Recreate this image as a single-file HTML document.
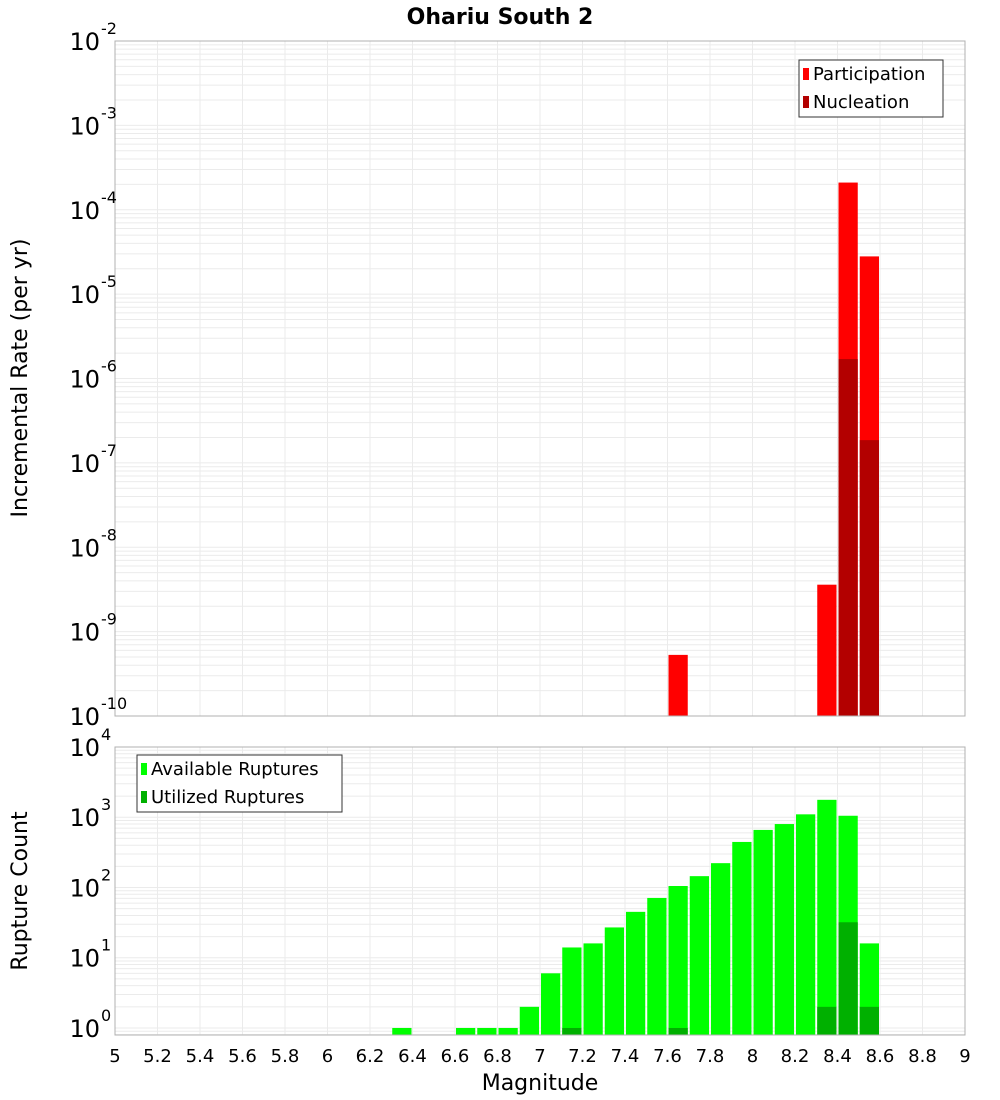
<!DOCTYPE html>
<html><head><meta charset="utf-8"><style>
body{margin:0;background:#fff}
svg{display:block;font-family:"DejaVu Sans","Liberation Sans",sans-serif}
</style></head><body>
<svg id="chart" width="1000" height="1100" xmlns="http://www.w3.org/2000/svg">
<text x="500" y="24" text-anchor="middle" font-size="22" font-weight="bold">Ohariu South 2</text>
<g id="top"></g><g id="bot"></g>
</svg>
<script>
const binStarts=[5.0,5.1,5.2,5.3,5.4,5.5,5.6,5.7,5.8,5.9,6.0,6.1,6.2,6.3,6.4,6.5,6.6,6.7,6.8,6.9,7.0,7.1,7.2,7.3,7.4,7.5,7.6,7.7,7.8,7.9,8.0,8.1,8.2,8.3,8.4,8.5];
const participation=[0,0,0,0,0,0,0,0,0,0,0,0,0,0,0,0,0,0,0,0,0,0,0,0,0,0,5.3e-10,0,0,0,0,0,0,3.6e-9,2.1e-4,2.8e-5];
const nucleation=[0,0,0,0,0,0,0,0,0,0,0,0,0,0,0,0,0,0,0,0,0,0,0,0,0,0,0,0,0,0,0,0,0,0,1.7e-6,1.86e-7];
const available=[0,0,0,0,0,0,0,0,0,0,0,0,0,1,0,0,1,1,1,2,6,14,16,27,45,71,105,145,222,445,660,800,1100,1770,1050,16];
const utilized=[0,0,0,0,0,0,0,0,0,0,0,0,0,0,0,0,0,0,0,0,0,1,0,0,0,0,1,0,0,0,0,0,0,2,32,2];
const xTicks=[5,5.2,5.4,5.6,5.8,6,6.2,6.4,6.6,6.8,7,7.2,7.4,7.6,7.8,8,8.2,8.4,8.6,8.8,9];
const topExps=[-2,-3,-4,-5,-6,-7,-8,-9,-10];
const botExps=[0,1,2,3,4];

const NS="http://www.w3.org/2000/svg";
const L=115,R=965;
const xs=v=>L+(v-5)/4*(R-L);
function mk(p,tag,a,txt){const e=document.createElementNS(NS,tag);for(const k in a)e.setAttribute(k,a[k]);if(txt!=null)e.textContent=txt;p.appendChild(e);return e;}

function panel(g,T,B,lmin,lmax,exps,series,colors,legend,legX,legY,legW,yTitle,yTitleY){
  const ys=v=>B-(Math.log10(v)-lmin)/(lmax-lmin)*(B-T);
  const grid=mk(g,'g',{});
  
  for(let e=Math.floor(lmin);e<lmax;e++)for(let m=1;m<10;m++){const v=m*Math.pow(10,e);const lv=Math.log10(v);if(lv<lmin||lv>lmax)continue;const y=ys(v);mk(grid,'line',{x1:L,x2:R,y1:y,y2:y,stroke:'#ebebeb','stroke-width':1});}
  xTicks.forEach(t=>{const x=xs(t);mk(grid,'line',{x1:x,x2:x,y1:T,y2:B,stroke:'#ebebeb','stroke-width':1});});
  series.forEach((arr,si)=>{const sg=mk(g,'g',{});
    arr.forEach((v,i)=>{if(!(v>0))return;const x0=xs(binStarts[i])+1,x1=xs(binStarts[i]+0.1)-1;const y=Math.max(T,ys(v));
      const r=mk(sg,'rect',{x:x0,y:y,width:x1-x0,height:B-y,fill:colors[si]});});});
  const fr=mk(g,'rect',{x:L,y:T,width:R-L,height:B-T,fill:'none',stroke:'#b0b0b0','stroke-width':1});
  
  exps.forEach(e=>{const y=ys(Math.pow(10,e));const t=mk(g,'text',{x:100,y:y+9,'text-anchor':'end','font-size':24},'10');
    const s=mk(g,'text',{x:101,y:y-7,'font-size':16},String(e));});
  const yt=mk(g,'text',{x:0,y:0,transform:`translate(27,${yTitleY}) rotate(-90)`,'text-anchor':'middle','font-size':22},yTitle);
  
  const lg=mk(g,'g',{});
  mk(lg,'rect',{x:legX,y:legY,width:legW,height:57,fill:'#fff',stroke:'#333','stroke-width':1});
  legend.forEach((n,i)=>{const e=mk(lg,'g',{});
    mk(e,'rect',{x:legX+4,y:legY+8+i*28,width:6,height:12,fill:colors[i]});
    mk(e,'text',{x:legX+14,y:legY+20+i*28,'font-size':18},n);});
}
panel(document.getElementById('top'),41,716,-10,-2,topExps,[participation,nucleation],['#ff0000','#b30000'],['Participation','Nucleation'],799,60,144,'Incremental Rate (per yr)',378);
panel(document.getElementById('bot'),747,1035,-0.1,4,botExps,[available,utilized],['#00ff00','#00b000'],['Available Ruptures','Utilized Ruptures'],137,755,205,'Rupture Count',891);
const bg=document.getElementById('bot');
xTicks.forEach(t=>{const tx=mk(bg,'text',{x:xs(t),y:1062,'text-anchor':'middle','font-size':18},String(t));});
const xt=mk(bg,'text',{x:540,y:1090,'text-anchor':'middle','font-size':22},'Magnitude');

</script>
</body></html>
